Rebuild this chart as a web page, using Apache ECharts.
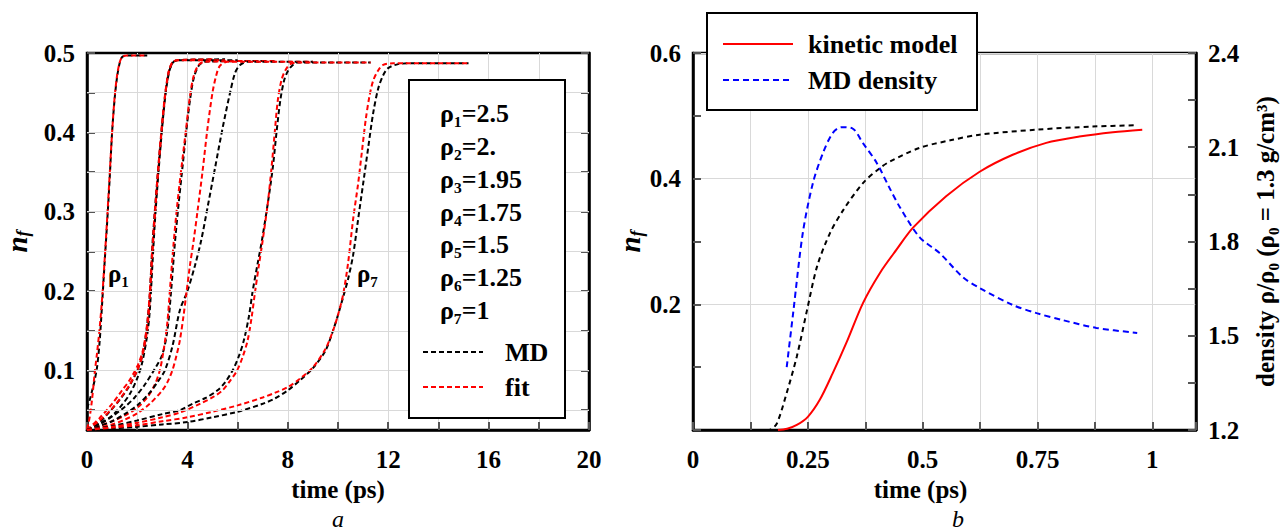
<!DOCTYPE html>
<html><head><meta charset="utf-8">
<script src="https://cdn.jsdelivr.net/npm/echarts@6/dist/echarts.min.js"></script>
<style>html,body{margin:0;padding:0;background:#fff}#c{width:1282px;height:532px}</style>
</head><body><div id="c"></div>
<script>
// ---------- panel a : n_f(t) for several densities, MD (black) and fit (red) ----------
const md1 = [[0,0.052],[0.1,0.062],[0.2,0.074],[0.3,0.087],[0.4,0.104],[0.5,0.135],[0.6,0.183],[0.7,0.235],[0.8,0.285],[0.9,0.34],[1.0,0.4],[1.1,0.442],[1.2,0.47],[1.3,0.487],[1.4,0.495],[1.6,0.497],[2.4,0.497]];
const fit1 = [[0,0.026],[0.1,0.04],[0.2,0.063],[0.3,0.095],[0.4,0.122],[0.5,0.152],[0.6,0.19],[0.7,0.238],[0.8,0.29],[0.9,0.345],[1.0,0.4],[1.1,0.444],[1.2,0.472],[1.3,0.488],[1.4,0.495],[1.6,0.497],[2.3,0.497]];
const md2 = [[0,0.025],[0.5,0.035],[0.9,0.048],[1.3,0.063],[1.6,0.076],[1.8,0.087],[2.0,0.1],[2.2,0.118],[2.3,0.135],[2.4,0.158],[2.5,0.195],[2.6,0.255],[2.7,0.3],[2.8,0.34],[2.95,0.395],[3.1,0.443],[3.25,0.475],[3.4,0.487],[3.6,0.491],[5.5,0.492]];
const fit2 = [[0,0.025],[0.5,0.04],[1.0,0.058],[1.4,0.075],[1.7,0.088],[2.0,0.105],[2.2,0.122],[2.3,0.137],[2.4,0.16],[2.5,0.197],[2.6,0.252],[2.7,0.298],[2.8,0.34],[2.95,0.397],[3.1,0.445],[3.25,0.476],[3.4,0.488],[3.6,0.491],[5.0,0.492]];
const md3 = [[0,0.025],[0.5,0.033],[1.0,0.043],[1.4,0.057],[1.7,0.07],[2.0,0.09],[2.2,0.11],[2.4,0.145],[2.5,0.175],[2.6,0.23],[2.7,0.285],[2.8,0.33],[2.95,0.39],[3.1,0.44],[3.25,0.473],[3.4,0.487],[3.6,0.491],[6.0,0.491]];
const fit3 = [[0,0.025],[0.5,0.037],[1.0,0.052],[1.4,0.068],[1.7,0.082],[2.0,0.1],[2.2,0.118],[2.4,0.152],[2.5,0.19],[2.6,0.245],[2.7,0.293],[2.8,0.337],[2.95,0.394],[3.1,0.443],[3.25,0.475],[3.4,0.488],[3.6,0.491],[5.5,0.491]];
const md4 = [[0,0.025],[0.5,0.032],[1.0,0.042],[1.5,0.054],[1.9,0.066],[2.3,0.082],[2.7,0.102],[3.0,0.12],[3.2,0.15],[3.35,0.2],[3.5,0.26],[3.65,0.31],[3.8,0.355],[3.95,0.4],[4.1,0.44],[4.25,0.468],[4.45,0.484],[4.7,0.489],[7.0,0.49]];
const fit4 = [[0,0.025],[0.5,0.03],[1.0,0.036],[1.5,0.043],[2.0,0.053],[2.4,0.066],[2.7,0.082],[2.9,0.1],[3.05,0.125],[3.2,0.16],[3.3,0.2],[3.45,0.26],[3.6,0.31],[3.78,0.36],[3.95,0.405],[4.1,0.445],[4.25,0.471],[4.45,0.485],[4.7,0.489],[7.5,0.49]];
const md5 = [[0,0.025],[0.5,0.03],[1.0,0.036],[1.5,0.045],[2.0,0.056],[2.5,0.072],[2.8,0.085],[3.1,0.1],[3.4,0.13],[3.7,0.176],[4.0,0.2],[4.3,0.232],[4.55,0.264],[4.8,0.305],[5.1,0.355],[5.4,0.405],[5.7,0.45],[5.9,0.475],[6.1,0.485],[6.4,0.489],[9.0,0.489]];
const fit5 = [[0,0.025],[0.5,0.028],[1.0,0.032],[1.5,0.038],[2.0,0.046],[2.5,0.058],[3.0,0.075],[3.2,0.085],[3.4,0.1],[3.55,0.117],[3.7,0.138],[3.85,0.17],[3.97,0.2],[4.1,0.232],[4.25,0.264],[4.4,0.3],[4.6,0.35],[4.8,0.405],[5.0,0.45],[5.15,0.472],[5.3,0.484],[5.6,0.489],[9.0,0.489]];
const md6 = [[0,0.025],[1,0.03],[2,0.037],[3,0.045],[3.7,0.05],[4.2,0.058],[4.7,0.065],[5.2,0.075],[5.5,0.085],[5.8,0.1],[6.05,0.118],[6.25,0.138],[6.45,0.168],[6.6,0.2],[6.8,0.235],[6.97,0.264],[7.2,0.31],[7.4,0.355],[7.55,0.4],[7.7,0.44],[7.85,0.465],[8.0,0.477],[8.2,0.485],[8.4,0.488],[11.3,0.488]];
const fit6 = [[0,0.025],[1,0.029],[2,0.034],[3,0.041],[3.7,0.047],[4.5,0.058],[5.0,0.066],[5.4,0.075],[5.7,0.087],[5.98,0.1],[6.2,0.117],[6.4,0.138],[6.55,0.165],[6.7,0.2],[6.85,0.233],[7.0,0.264],[7.2,0.31],[7.35,0.355],[7.48,0.4],[7.6,0.44],[7.75,0.466],[7.9,0.478],[8.1,0.486],[8.4,0.488],[11.3,0.488]];
const md7 = [[0,0.025],[1,0.027],[2,0.029],[3,0.032],[4,0.035],[5,0.041],[6,0.048],[7,0.058],[7.5,0.065],[8,0.075],[8.5,0.088],[9.0,0.103],[9.5,0.125],[9.8,0.15],[10.0,0.17],[10.2,0.192],[10.4,0.215],[10.6,0.245],[10.8,0.29],[11.0,0.335],[11.2,0.38],[11.4,0.424],[11.6,0.455],[11.8,0.472],[12.0,0.481],[12.4,0.486],[13,0.487],[15.2,0.487]];
const fit7 = [[0,0.025],[1,0.028],[2,0.031],[3,0.036],[4,0.041],[5,0.048],[6,0.056],[7,0.066],[7.5,0.072],[8,0.079],[8.5,0.09],[9.0,0.104],[9.5,0.127],[9.8,0.15],[10.0,0.17],[10.2,0.195],[10.4,0.235],[10.6,0.29],[10.8,0.335],[10.95,0.375],[11.1,0.415],[11.25,0.445],[11.4,0.465],[11.6,0.478],[11.8,0.485],[12.2,0.487],[15.2,0.487]];
const mdCurves = [md1, md2, md3, md4, md5, md6, md7];
const fitCurves = [fit1, fit2, fit3, fit4, fit5, fit6, fit7];
const densityLegend = ['ρ₁=2.5','ρ₂=2.','ρ₃=1.95','ρ₄=1.75','ρ₅=1.5','ρ₆=1.25','ρ₇=1'];
const gridA_y = [0.05,0.1,0.15,0.2,0.25,0.3,0.35,0.4,0.45];
const tickA_y = [0.05,0.1,0.15,0.2,0.25,0.3,0.35,0.4,0.45,0.5];
const labelA_y = [0.1,0.2,0.3,0.4,0.5];

// ---------- panel b ----------
const kinetic = [[0.185,0],[0.205,0.002],[0.226,0.008],[0.25,0.021],[0.276,0.048],[0.304,0.09],[0.334,0.139],[0.37,0.202],[0.407,0.25],[0.443,0.287],[0.479,0.322],[0.551,0.372],[0.624,0.411],[0.696,0.438],[0.769,0.457],[0.841,0.467],[0.914,0.474],[0.978,0.478]];
const mdNf = [[0.16,0],[0.17,0.001],[0.183,0.011],[0.204,0.059],[0.226,0.117],[0.248,0.19],[0.27,0.26],[0.298,0.313],[0.327,0.35],[0.37,0.393],[0.407,0.417],[0.428,0.427],[0.493,0.449],[0.56,0.461],[0.624,0.47],[0.748,0.478],[0.87,0.483],[0.967,0.485]];
const mdDensity = [[0.204,1.40],[0.218,1.572],[0.239,1.827],[0.261,1.986],[0.283,2.082],[0.304,2.145],[0.323,2.164],[0.346,2.161],[0.37,2.113],[0.4,2.05],[0.428,1.97],[0.45,1.91],[0.493,1.814],[0.537,1.763],[0.587,1.687],[0.624,1.652],[0.696,1.598],[0.748,1.572],[0.804,1.55],[0.878,1.525],[0.967,1.509]];

const FONT = 'Liberation Serif';
const lab = {color:'#000', fontFamily:FONT, fontWeight:'bold', fontSize:25};
const axLine = {show:true, lineStyle:{color:'#000', width:2.5}};
const tick = {show:true, inside:true, length:8, lineStyle:{color:'#555', width:2}};
const gridLine = {show:true, lineStyle:{color:'#d9d9d9', width:1}};
const nfName = '{a|n}{b|f}';
const nfStyle = {rich:{a:{fontFamily:FONT, fontSize:29, fontStyle:'italic', fontWeight:'bold', color:'#000', verticalAlign:'top'},
                       b:{fontFamily:FONT, fontSize:18, fontStyle:'italic', fontWeight:'bold', color:'#000', verticalAlign:'top', padding:[12,0,0,0]}}};
const nameStyle = {color:'#000', fontFamily:FONT, fontWeight:'bold', fontSize:25};
const near = (v, s) => Math.abs(v/s - Math.round(v/s)) < 1e-6;

const series = [];
series.push({type:'line', xAxisIndex:0, yAxisIndex:0, data:[], z:1, silent:true,
  markLine:{silent:true, symbol:'none', label:{show:false}, animation:false,
    lineStyle:{color:'#d9d9d9', width:1, type:'solid'}, data: gridA_y.map(v => ({yAxis:v}))}});
for (let i = 0; i < 7; i++) {
  series.push({type:'line', xAxisIndex:0, yAxisIndex:0, data:mdCurves[i], showSymbol:false, symbol:'none', smooth:0.3, z:3,
    lineStyle:{color:'#000', width:2, type:[5,3]}});
  series.push({type:'line', xAxisIndex:0, yAxisIndex:0, data:fitCurves[i], showSymbol:false, symbol:'none', smooth:0.3, z:3,
    lineStyle:{color:'#ff0000', width:2, type:[5,3]}});
}
series.push({type:'line', xAxisIndex:1, yAxisIndex:2, data:mdNf, symbol:'none', smooth:0.3, z:3,
  lineStyle:{color:'#000', width:2, type:[5,4]}});
series.push({type:'line', xAxisIndex:1, yAxisIndex:4, data:mdDensity, symbol:'none', smooth:0.3, z:3,
  lineStyle:{color:'#0000ff', width:2, type:[6,4]}});
series.push({type:'line', xAxisIndex:1, yAxisIndex:2, data:kinetic, symbol:'none', smooth:0.3, z:3,
  lineStyle:{color:'#ff0000', width:2, type:'solid'}});

const txt = (t, x, y, size, opts={}) => ({type:'text', z:100, style:Object.assign({text:t, x:x, y:y,
  font:(opts.italic?'italic ':'') + (opts.normal?'':'bold ') + size + 'px "' + FONT + '"', fill:'#000',
  align:opts.align||'left', verticalAlign:'middle', textAlign:opts.align||'left', textVerticalAlign:'middle'})});

const graphic = [];
// legend box, panel a
graphic.push({type:'rect', z:90, shape:{x:409, y:80, width:156, height:338}, style:{fill:'#fff', stroke:'#000', lineWidth:2}});
const rowY = [113,146,179,212,244,277,310];
densityLegend.forEach((t,i) => graphic.push(txt(t, 440, rowY[i], 26)));
graphic.push({type:'line', z:100, shape:{x1:423, y1:352, x2:483, y2:352}, style:{stroke:'#000', lineWidth:2, lineDash:[5,3]}});
graphic.push({type:'line', z:100, shape:{x1:423, y1:387, x2:483, y2:387}, style:{stroke:'#ff0000', lineWidth:2, lineDash:[5,3]}});
graphic.push(txt('MD', 505, 352, 26));
graphic.push(txt('fit', 505, 387, 26));
graphic.push(txt('ρ₁', 108, 273, 25));
graphic.push(txt('ρ₇', 357, 273, 25));
// legend box, panel b
graphic.push({type:'rect', z:90, shape:{x:707, y:13, width:270, height:97}, style:{fill:'#fff', stroke:'#000', lineWidth:2}});
graphic.push({type:'line', z:100, shape:{x1:723, y1:44, x2:793, y2:44}, style:{stroke:'#ff0000', lineWidth:2}});
graphic.push({type:'line', z:100, shape:{x1:723, y1:80, x2:793, y2:80}, style:{stroke:'#0000ff', lineWidth:2, lineDash:[6,4]}});
graphic.push(txt('kinetic model', 808, 44, 26));
graphic.push(txt('MD density', 808, 80, 26));
// panel letters
graphic.push(txt('a', 338, 519, 24, {italic:true, normal:true, align:'center'}));
graphic.push(txt('b', 958, 519, 24, {italic:true, normal:true, align:'center'}));

const option = {
  animation:false,
  backgroundColor:'#fff',
  grid:[
    {left:87, top:53, width:502, height:377, show:true, borderColor:'#000', borderWidth:2.5, backgroundColor:'transparent', containLabel:false, outerBoundsMode:'none'},
    {left:693, top:53, width:503, height:377, show:true, borderColor:'#000', borderWidth:2.5, backgroundColor:'transparent', containLabel:false, outerBoundsMode:'none'}
  ],
  xAxis:[
    {gridIndex:0, type:'value', min:0, max:20, interval:2, axisLine:axLine, axisTick:tick, splitLine:gridLine,
     axisLabel:Object.assign({margin:17, formatter:v => near(v,4) ? String(v) : ''}, lab),
     name:'time (ps)', nameLocation:'middle', nameGap:45, nameTextStyle:nameStyle},
    {gridIndex:1, type:'value', min:0, max:1.095, interval:0.125, axisLine:axLine, axisTick:tick, splitLine:gridLine,
     axisLabel:Object.assign({margin:17, formatter:v => (near(v,0.25) && v <= 1.0001) ? String(+v.toFixed(2)) : ''}, lab),
     name:'time (ps)', nameLocation:'middle', nameGap:45, nameTextStyle:Object.assign({padding:[0,48,0,0]}, nameStyle)}
  ],
  yAxis:[
    {gridIndex:0, type:'value', position:'left', min:0.025, max:0.5, axisLine:axLine,
     axisTick:Object.assign({customValues:tickA_y}, tick), splitLine:{show:false},
     axisLabel:Object.assign({margin:12, customValues:labelA_y, formatter:v => v.toFixed(1)}, lab),
     name:nfName, nameLocation:'middle', nameGap:55, nameRotate:90, nameTextStyle:nfStyle},
    {gridIndex:0, type:'value', position:'right', min:0.025, max:0.5, axisLine:axLine,
     axisTick:Object.assign({customValues:tickA_y}, tick), splitLine:{show:false}, axisLabel:{show:false}},
    {gridIndex:1, type:'value', position:'left', min:0, max:0.6, interval:0.2, axisLine:axLine, axisTick:tick, splitLine:gridLine,
     axisLabel:Object.assign({margin:12, formatter:v => v === 0 ? '' : v.toFixed(1)}, lab),
     name:nfName, nameLocation:'middle', nameGap:33, nameRotate:90, nameTextStyle:nfStyle},
    {gridIndex:1, type:'value', position:'left', min:0, max:0.6, interval:0.1, axisLine:{show:false}, axisTick:tick,
     splitLine:{show:false}, axisLabel:{show:false}},
    {gridIndex:1, type:'value', position:'right', min:1.2, max:2.4, interval:0.15, axisLine:axLine, axisTick:tick,
     splitLine:{show:false},
     axisLabel:Object.assign({margin:12, formatter:v => near(v - 1.2, 0.3) ? v.toFixed(1) : ''}, lab),
     name:'density ρ/ρ₀ (ρ₀ = 1.3 g/cm³)', nameLocation:'middle', nameGap:57, nameRotate:90,
     nameTextStyle:{color:'#000', fontFamily:FONT, fontWeight:'bold', fontSize:25}}
  ],
  series:series,
  graphic:graphic
};
const chart = echarts.init(document.getElementById('c'), null, {renderer:'svg', width:1282, height:532});
chart.setOption(option);
</script>
</body></html>
